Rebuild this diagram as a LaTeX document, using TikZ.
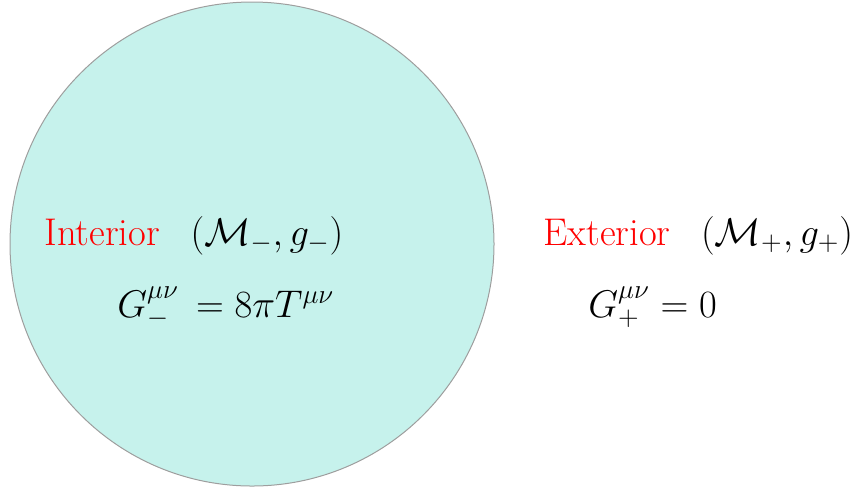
\RequirePackage{fix-cm}
\documentclass[tikz,border=0pt]{standalone}
\usepackage{amsmath,amssymb}
\usepackage{xcolor}
\usepackage{tikz}
\usetikzlibrary{positioning}
\definecolor{cinside}{HTML}{C6F2EC}
\definecolor{crim}{HTML}{9E9E9E}

\begin{document}
\begin{tikzpicture}[
  x=0.5pt, y=-0.5pt,
  font=\fontsize{19.3}{23}\selectfont,
  region/.style={circle, draw=crim, line width=0.5pt, fill=cinside,
                 minimum size=242pt, inner sep=0pt},
  side/.style={text=red, inner sep=0pt, anchor=base west},
  mfd/.style={inner sep=0pt},
  eqn/.style={inner sep=0pt, anchor=base west}
]
\useasboundingbox (0,0) rectangle (850,489);

% Interior region
\node[region] (ball) at (252,244) {};

% Interior labels
\node[side] (intlbl) at (44,245) {Interior};
\node[mfd, base right=15pt of intlbl] (intmfd) {$(\mathcal{M}_-, g_-)$};
\node[eqn] (inteq) at (117,317) {$G_-^{\mu\nu}\, = 8\pi T^{\mu\nu}$};

% Exterior labels
\node[side] (extlbl) at (543,245) {Exterior};
\node[mfd, base right=15pt of extlbl] (extmfd) {$(\mathcal{M}_+, g_+)$};
\node[eqn] (exteq) at (588,317) {$G_+^{\mu\nu} = 0$};

\end{tikzpicture}
\end{document}
